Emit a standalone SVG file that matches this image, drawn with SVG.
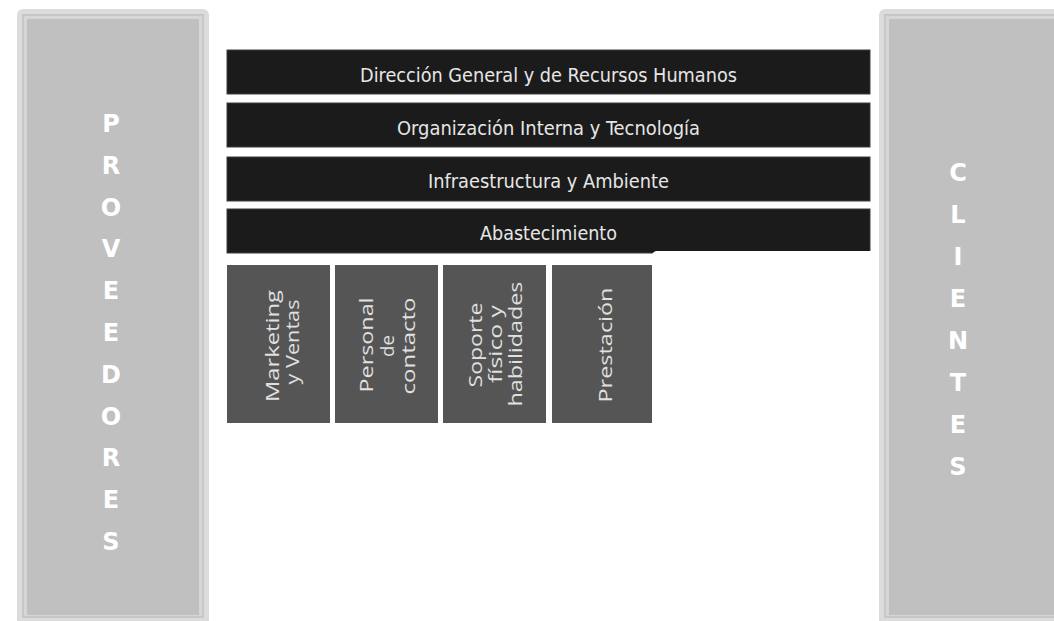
<svg xmlns="http://www.w3.org/2000/svg" width="1054" height="621" viewBox="0 0 1054 621">
<style>
.outer{fill:#dcdcdc}
.line{fill:#c7c7c7}
.light{fill:#d6d6d6}
.inner{fill:#c0c0c0}
.letter{font-family:"DejaVu Sans",sans-serif;font-weight:bold;font-size:24px;fill:#ffffff;text-anchor:middle}
.bar{fill:#1b1b1b;stroke:#3c3c3c;stroke-width:1}
.bartext{font-family:"DejaVu Sans Condensed","DejaVu Sans",sans-serif;font-size:19px;fill:#e6e6e6;text-anchor:middle}
.box{fill:#555555}
.boxtext{font-family:"Open Sans","DejaVu Sans",sans-serif;font-size:19px;fill:#e0e0e0;text-anchor:middle}
</style>
<rect width="1054" height="621" fill="#ffffff"/>
<g id="proveedores">
<rect class="outer" x="17" y="9" width="192" height="625" rx="6"/>
<rect class="line" x="22" y="14" width="182" height="604"/>
<rect class="light" x="24" y="16" width="178" height="600"/>
<rect class="inner" x="27" y="19" width="172" height="596"/>
<text class="letter" x="111" y="132">P</text>
<text class="letter" x="111" y="173.8">R</text>
<text class="letter" x="111" y="215.6">O</text>
<text class="letter" x="111" y="257.4">V</text>
<text class="letter" x="111" y="299.2">E</text>
<text class="letter" x="111" y="341">E</text>
<text class="letter" x="111" y="382.8">D</text>
<text class="letter" x="111" y="424.6">O</text>
<text class="letter" x="111" y="466.4">R</text>
<text class="letter" x="111" y="508.2">E</text>
<text class="letter" x="111" y="550">S</text>
</g>
<g id="clientes">
<rect class="outer" x="879" y="9" width="200" height="625" rx="6"/>
<rect class="line" x="884" y="14" width="190" height="604"/>
<rect class="light" x="886" y="16" width="186" height="600"/>
<rect class="inner" x="889" y="19" width="180" height="596"/>
<text class="letter" x="958" y="181">C</text>
<text class="letter" x="958" y="223">L</text>
<text class="letter" x="958" y="265">I</text>
<text class="letter" x="958" y="307">E</text>
<text class="letter" x="958" y="349">N</text>
<text class="letter" x="958" y="391">T</text>
<text class="letter" x="958" y="433">E</text>
<text class="letter" x="958" y="475">S</text>
</g>
<g id="bar-direccion">
<rect class="bar" x="227" y="50" width="643" height="44"/>
<text class="bartext" x="548.5" y="82" textLength="377" lengthAdjust="spacingAndGlyphs">Dirección General y de Recursos Humanos</text>
</g>
<g id="bar-organizacion">
<rect class="bar" x="227" y="103" width="643" height="44"/>
<text class="bartext" x="548.5" y="135" textLength="303" lengthAdjust="spacingAndGlyphs">Organización Interna y Tecnología</text>
</g>
<g id="bar-infraestructura">
<rect class="bar" x="227" y="157" width="643" height="44"/>
<text class="bartext" x="548.5" y="188" textLength="241" lengthAdjust="spacingAndGlyphs">Infraestructura y Ambiente</text>
</g>
<g id="bar-abastecimiento">
<rect class="bar" x="227" y="209" width="643" height="44"/>
<text class="bartext" x="548.5" y="240" textLength="137" lengthAdjust="spacingAndGlyphs">Abastecimiento</text>
</g>
<rect x="652" y="251" width="224" height="20" rx="5" fill="#ffffff"/>
<g id="box-marketing">
<rect class="box" x="227" y="265" width="103" height="158"/>
<text class="boxtext" transform="translate(279,346) rotate(-90)" textLength="112" lengthAdjust="spacingAndGlyphs">Marketing</text>
<text class="boxtext" transform="translate(299,342) rotate(-90)" textLength="85" lengthAdjust="spacingAndGlyphs">y Ventas</text>
</g>
<g id="box-personal">
<rect class="box" x="335" y="265" width="103" height="158"/>
<text class="boxtext" transform="translate(373,345) rotate(-90)" textLength="95" lengthAdjust="spacingAndGlyphs">Personal</text>
<text class="boxtext" transform="translate(394,346) rotate(-90)" textLength="22" lengthAdjust="spacingAndGlyphs">de</text>
<text class="boxtext" transform="translate(415,346) rotate(-90)" textLength="97" lengthAdjust="spacingAndGlyphs">contacto</text>
</g>
<g id="box-soporte">
<rect class="box" x="443" y="265" width="103" height="158"/>
<text class="boxtext" transform="translate(482,345) rotate(-90)" textLength="85" lengthAdjust="spacingAndGlyphs">Soporte</text>
<text class="boxtext" transform="translate(502,344) rotate(-90)" textLength="78" lengthAdjust="spacingAndGlyphs">físico y</text>
<text class="boxtext" transform="translate(522,344) rotate(-90)" textLength="125" lengthAdjust="spacingAndGlyphs">habilidades</text>
</g>
<g id="box-prestacion">
<rect class="box" x="552" y="265" width="100" height="158"/>
<text class="boxtext" transform="translate(612,345) rotate(-90)" textLength="115" lengthAdjust="spacingAndGlyphs">Prestación</text>
</g>
<g id="connectors"/>
</svg>
